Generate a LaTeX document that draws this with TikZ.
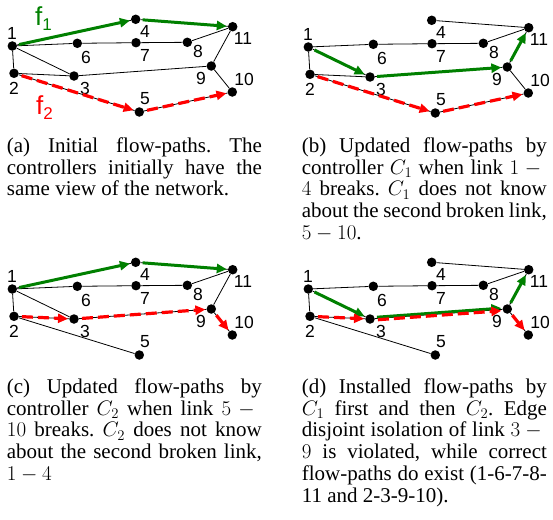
\documentclass[tikz,border=0pt]{standalone}
\usepackage{fix-cm}
\usepackage[no-math]{fontspec}
\setmainfont{Liberation Serif}
\newfontfamily\lblfont{Liberation Sans}
\usetikzlibrary{arrows.meta}
\definecolor{flowgreen}{RGB}{0,128,0}
\definecolor{flowred}{RGB}{255,0,0}
\frenchspacing
% controller names, with their subscript kept out of the line depth
\newcommand\ctrl[1]{\smash{$C_{#1}$}}

\tikzset{
  dot/.style={circle,fill=black,inner sep=0pt,minimum size=9.5pt},
  lbl/.style={inner sep=0pt,font=\lblfont\fontsize{17.5}{17.5}\selectfont},
  link/.style={draw=black,line width=0.8pt},
  greenflow/.style={draw=flowgreen,line width=3pt,
    -{Triangle[length=10pt,width=9pt]},shorten <=2pt,shorten >=1pt},
  redflow/.style={draw=flowred,line width=3.2pt,dash pattern=on 11pt off 5pt,
    -{Triangle[length=10pt,width=9pt]},shorten <=3pt,shorten >=1pt},
  redshort/.style={redflow,solid},
  capline/.style={anchor=base west,inner sep=0pt,
    font=\fontsize{21}{21.7}\selectfont},
  flowname/.style={anchor=base west,inner sep=0pt},
}

% Places the eleven switches of one network copy, named <prefix><number>,
% together with their number labels <prefix>t<number>.
\newcommand\netnodes[3]{%
  \begin{scope}[shift={(#2,#3)}]
    \node[dot] (#11)  at (12.3,46)   {};
    \node[dot] (#12)  at (14,73.3)   {};
    \node[dot] (#13)  at (74,76)     {};
    \node[dot] (#14)  at (135.7,19.3){};
    \node[dot] (#15)  at (139.3,112) {};
    \node[dot] (#16)  at (77.3,43.3) {};
    \node[dot] (#17)  at (136,42.7)  {};
    \node[dot] (#18)  at (187.3,42.3){};
    \node[dot] (#19)  at (211.3,66)  {};
    \node[dot] (#110) at (232.3,92)  {};
    \node[dot] (#111) at (232.7,26.7){};
    \node[lbl] (#1t1)  at (12,33)  {1};
    \node[lbl] (#1t2)  at (14,88)  {2};
    \node[lbl] (#1t3)  at (85,88)  {3};
    \node[lbl] (#1t4)  at (145,31) {4};
    \node[lbl] (#1t5)  at (145,99) {5};
    \node[lbl] (#1t6)  at (86,57)  {6};
    \node[lbl] (#1t7)  at (145,55) {7};
    \node[lbl] (#1t8)  at (198,51) {8};
    \node[lbl] (#1t9)  at (201,78) {9};
    \node[lbl] (#1t10) at (244,79) {10};
    \node[lbl] (#1t11) at (243,38) {11};
  \end{scope}}

\begin{document}
\begin{tikzpicture}[x=1pt,y=-1pt]
  \useasboundingbox (0,0) rectangle (553,519);

  \netnodes{a}{0}{0}
  \netnodes{b}{296}{1}
  \netnodes{c}{0}{243}
  \netnodes{d}{296}{243}

  % (a) full topology
  \foreach \u/\v in {1/2,1/3,1/4,1/6,2/3,2/5,3/9,4/11,5/10,6/7,7/8,8/11,9/10,9/11}
    \draw[link] (a\u) -- (a\v);
  % (b) link 1-4 removed
  \foreach \u/\v in {1/2,1/3,1/6,2/3,2/5,3/9,4/11,5/10,6/7,7/8,8/11,9/10,9/11}
    \draw[link] (b\u) -- (b\v);
  % (c) link 5-10 removed
  \foreach \u/\v in {1/2,1/3,1/4,1/6,2/3,2/5,3/9,4/11,6/7,7/8,8/11,9/10,9/11}
    \draw[link] (c\u) -- (c\v);
  % (d) both links removed
  \foreach \u/\v in {1/2,1/3,1/6,2/3,2/5,3/9,4/11,6/7,7/8,8/11,9/10,9/11}
    \draw[link] (d\u) -- (d\v);

  % flow paths (a)
  \draw[greenflow] (a1) -- (a4);
  \draw[greenflow] (a4) -- (a11);
  \draw[redflow] (a2) -- (a5);
  \draw[redflow] (a5) -- (a10);
  \node[flowname,text=flowgreen] (fa1) at (35,26)
    {\lblfont\fontsize{26}{26}\selectfont f\raisebox{-5pt}{\fontsize{17}{17}\selectfont 1}};
  \node[flowname,text=flowred] (fa2) at (36,114)
    {\lblfont\fontsize{26}{26}\selectfont f\raisebox{-5pt}{\fontsize{17}{17}\selectfont 2}};

  % flow paths (b)
  \draw[greenflow] (b1) -- (b3);
  \draw[greenflow] (b3) -- (b9);
  \draw[greenflow] (b9) -- (b11);
  \draw[redflow] (b2) -- (b5);
  \draw[redflow] (b5) -- (b10);

  % flow paths (c)
  \draw[greenflow] (c1) -- (c4);
  \draw[greenflow] (c4) -- (c11);
  \draw[redflow] (c2) -- (c3);
  \draw[redflow] (c3) -- (c9);
  \draw[redshort] (c9) -- (c10);

  % flow paths (d)
  \draw[greenflow] (d1) -- (d3);
  \draw[greenflow,transform canvas={yshift=1.3pt}] (d3) -- (d9);
  \draw[greenflow] (d9) -- (d11);
  \draw[redflow] (d2) -- (d3);
  \draw[redflow,transform canvas={yshift=-1.3pt}] (d3) -- (d9);
  \draw[redshort] (d9) -- (d10);

  % captions
  \node[capline] (ca1) at (6.7,152.5) {\makebox[255pt][s]{(a) Initial flow-paths. The}};
  \node[capline] (ca2) at (6.7,174.2) {\makebox[255pt][s]{controllers initially have the}};
  \node[capline] (ca3) at (6.7,195.9) {same view of the network.};

  \node[capline] (cb1) at (301.7,152.5) {\makebox[245pt][s]{(b) Updated flow-paths by}};
  \node[capline] (cb2) at (301.7,174.2) {\makebox[245pt][s]{controller \ctrl{1} when link $1-{}$}};
  \node[capline] (cb3) at (301.7,195.9) {\makebox[245pt][s]{$4$ breaks. \ctrl{1} does not know}};
  \node[capline] (cb4) at (301.7,217.6) {\makebox[245pt][s]{about the second broken link,}};
  \node[capline] (cb5) at (301.7,239.3) {$5-10$.};

  \node[capline] (cc1) at (6.7,393.5) {\makebox[255pt][s]{(c) Updated flow-paths by}};
  \node[capline] (cc2) at (6.7,415.2) {\makebox[255pt][s]{controller \ctrl{2} when link $5-{}$}};
  \node[capline] (cc3) at (6.7,436.9) {\makebox[255pt][s]{$10$ breaks. \ctrl{2} does not know}};
  \node[capline] (cc4) at (6.7,458.6) {\makebox[255pt][s]{about the second broken link,}};
  \node[capline] (cc5) at (6.7,480.3) {$1-4$};

  \node[capline] (cd1) at (301.7,393.5) {\makebox[245pt][s]{(d) Installed flow-paths by}};
  \node[capline] (cd2) at (301.7,415.2) {\makebox[245pt][s]{\ctrl{1} first and then \ctrl{2}. Edge}};
  \node[capline] (cd3) at (301.7,436.9) {\makebox[245pt][s]{disjoint isolation of link $3-{}$}};
  \node[capline] (cd4) at (301.7,458.6) {\makebox[245pt][s]{$9$ is violated, while correct}};
  \node[capline] (cd5) at (301.7,480.3) {\makebox[245pt][s]{flow-paths do exist (1-6-7-8-}};
  \node[capline] (cd6) at (301.7,502.0) {11 and 2-3-9-10).};
\end{tikzpicture}
\end{document}
